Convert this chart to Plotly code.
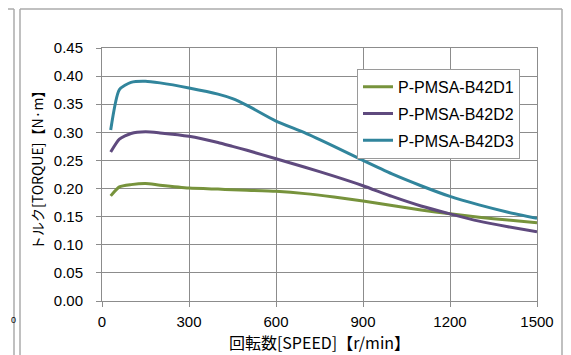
import plotly.graph_objects as go

speed = [30, 60, 100, 150, 200, 300, 400, 450, 500, 600, 700, 800, 900, 1000, 1100, 1200, 1300, 1400, 1500]
torque_d1 = [0.187, 0.203, 0.207, 0.209, 0.206, 0.201, 0.199, 0.198, 0.197, 0.195, 0.191, 0.185, 0.178, 0.170, 0.162, 0.155, 0.149, 0.144, 0.139]
torque_d2 = [0.265, 0.288, 0.298, 0.301, 0.299, 0.293, 0.282, 0.275, 0.268, 0.253, 0.238, 0.222, 0.205, 0.186, 0.169, 0.155, 0.142, 0.132, 0.123]
torque_d3 = [0.304, 0.376, 0.389, 0.391, 0.388, 0.379, 0.368, 0.360, 0.348, 0.320, 0.299, 0.275, 0.250, 0.226, 0.205, 0.186, 0.171, 0.158, 0.147]
series_names = ["P-PMSA-B42D1", "P-PMSA-B42D2", "P-PMSA-B42D3"]
x_ticks = [0, 300, 600, 900, 1200, 1500]
y_ticks = [0.00, 0.05, 0.10, 0.15, 0.20, 0.25, 0.30, 0.35, 0.40, 0.45]

colors = ["#77933C", "#5F4A7E", "#31859C"]

fig = go.Figure()
for i, (name, vals, c) in enumerate(zip(series_names, [torque_d1, torque_d2, torque_d3], colors)):
    fig.add_trace(go.Scatter(x=speed, y=vals, name=name, mode="lines", legendgroup=f"g{i}",
                             line=dict(color=c, width=3, shape="spline", smoothing=0.6)))

# page is offset by the body margin (8px); work in page pixels and convert
OFF = 8
W, H = 571 - OFF, 355 - OFF
L, R, T, B = 102 - OFF, 537 - OFF, 48 - OFF, 303 - OFF

def px(x):
    return (x - OFF - L) / (R - L)

def py(y):
    return (B - (y - OFF)) / (B - T)

frame_col = "#ababab"
top_y = 8.7
shapes = [
    dict(type="line", xref="paper", yref="paper", x0=px(14), x1=px(14), y0=py(top_y), y1=py(370), line=dict(color=frame_col, width=1.5)),
    dict(type="line", xref="paper", yref="paper", x0=px(0), x1=px(14), y0=py(top_y), y1=py(top_y), line=dict(color=frame_col, width=1.5)),
    dict(type="line", xref="paper", yref="paper", x0=px(20), x1=px(20), y0=py(top_y), y1=py(370), line=dict(color=frame_col, width=1.5)),
    dict(type="line", xref="paper", yref="paper", x0=px(20), x1=px(562), y0=py(top_y), y1=py(top_y), line=dict(color=frame_col, width=1.5)),
    dict(type="line", xref="paper", yref="paper", x0=px(562), x1=px(562), y0=py(top_y), y1=py(370), line=dict(color=frame_col, width=1.5)),
]

grid_col = "#8c8c8c"
font_fam = "Liberation Sans, Arial, sans-serif"
jp_fam = "Noto Sans CJK JP, sans-serif"

fig.update_layout(
    width=W, height=H,
    margin=dict(l=L, r=W - R, t=T, b=H - B, pad=0),
    paper_bgcolor="white", plot_bgcolor="white",
    font=dict(family=font_fam, size=15, color="#000000"),
    showlegend=True,
    legend=dict(x=px(357), y=py(69), xanchor="left", yanchor="top",
                bgcolor="white", bordercolor="#9a9a9a", borderwidth=1,
                font=dict(family=font_fam, size=16, color="#000000"),
                itemwidth=30, tracegroupgap=3, traceorder="grouped"),
    shapes=shapes,
    annotations=[
        dict(text="0", xref="paper", yref="paper", x=px(8.6), y=py(322), xanchor="left", yanchor="middle",
             showarrow=False, font=dict(family=font_fam, size=9, color="#000000")),
        dict(text="トルク[TORQUE]【N·m】", xref="paper", yref="paper", x=px(37), y=py(168),
             xanchor="center", yanchor="middle", textangle=-90, showarrow=False,
             font=dict(family=jp_fam, size=14, color="#000000")),
    ],
)

fig.update_xaxes(
    range=[0, 1500], tickvals=x_ticks, ticktext=[str(v) for v in x_ticks],
    showgrid=True, gridcolor=grid_col, gridwidth=1,
    showline=True, linecolor=grid_col, linewidth=1, mirror=True,
    ticks="outside", ticklen=5, tickcolor=grid_col, ticklabelstandoff=2,
    zeroline=False,
    title=dict(text="回転数[SPEED]【r/min】", font=dict(family=jp_fam, size=16, color="#000000"), standoff=2),
)
fig.update_yaxes(
    range=[0, 0.45], tickvals=y_ticks, ticktext=[f"{v:.2f}" for v in y_ticks],
    showgrid=True, gridcolor=grid_col, gridwidth=1,
    showline=True, linecolor=grid_col, linewidth=1, mirror=True,
    ticks="outside", ticklen=5, tickcolor=grid_col, ticklabelstandoff=10,
    zeroline=False,
)

fig.write_html("out.html")
